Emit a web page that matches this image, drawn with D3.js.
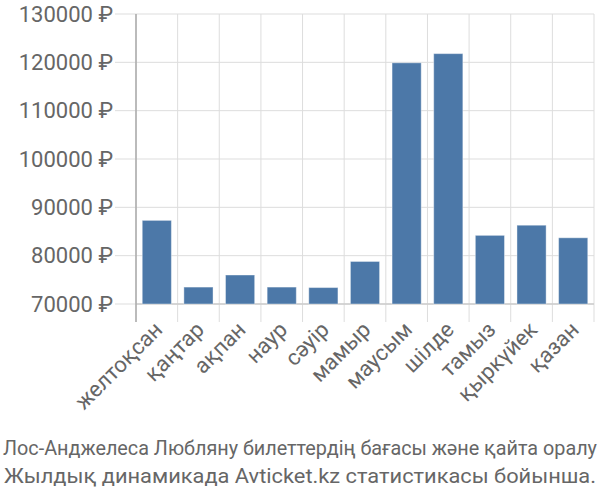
<!DOCTYPE html>
<html><head><meta charset="utf-8">
<script src="https://cdn.jsdelivr.net/npm/d3@7"></script>
<style>body{margin:0;background:#fff}svg{display:block}text{font-family:Roboto,sans-serif;fill:#666}</style>
</head><body><svg id="c" width="600" height="500"></svg>
<script>
const categories = ["желтоқсан","қаңтар","ақпан","наур","сәуір","мамыр","маусым","шілде","тамыз","қыркүйек","қазан"];
const prices = [87300, 73500, 76000, 73500, 73400, 78800, 119900, 121800, 84200, 86300, 83700];
const yTicks = [70000, 80000, 90000, 100000, 110000, 120000, 130000];
const titleLines = ["Лос-Анджелеса Любляну билеттердің бағасы және қайта оралу","Жылдық динамикада Avticket.kz статистикасы бойынша."];

const svg = d3.select("#c");
const L = 136, R = 594, T = 14, B = 304;
const x = d3.scaleBand().domain(categories).range([L, R]).paddingInner(0.3).paddingOuter(0.15);
const y = d3.scaleLinear().domain([70000, 130000]).range([B, T]);

svg.append("g").selectAll("line").data(yTicks).join("line")
  .attr("x1", L - 21).attr("x2", R).attr("y1", d => y(d)).attr("y2", d => y(d))
  .attr("stroke", "#ddd").attr("stroke-width", 1);
const bounds = categories.map(c => x(c) - x.step()*x.paddingInner()/2).concat([R]);
svg.append("g").selectAll("line").data(bounds).join("line")
  .attr("x1", d => d).attr("x2", d => d).attr("y1", T).attr("y2", B + 18)
  .attr("stroke", "#ddd").attr("stroke-width", 1);
svg.append("line").attr("x1", L).attr("x2", R).attr("y1", B).attr("y2", B).attr("stroke", "#ccc").attr("stroke-width", 1.5);
svg.append("line").attr("x1", L).attr("x2", L).attr("y1", T).attr("y2", B + 18).attr("stroke", "#aaa").attr("stroke-width", 1.5);

svg.append("g").selectAll("text").data(yTicks).join("text")
  .attr("x", 113).attr("y", d => y(d)).attr("dy", "0.35em").attr("text-anchor", "end")
  .style("font-size", "22px").text(d => d + " ₽");

svg.append("g").selectAll("rect").data(prices).join("rect")
  .attr("x", (d, i) => x(categories[i])).attr("width", x.bandwidth())
  .attr("y", d => y(d)).attr("height", d => B - y(d))
  .attr("fill", "#4c78a8").attr("stroke", "#fff").attr("stroke-opacity", 0.4).attr("stroke-width", 1);

svg.append("g").selectAll("text").data(categories).join("text")
  .attr("transform", d => `translate(${x(d) + x.bandwidth()/2 + 7},${B + 27}) rotate(-45)`)
  .attr("text-anchor", "end").style("font-size", "22px").text(d => d);

svg.append("g").selectAll("text").data(titleLines).join("text")
  .attr("x", 300).attr("y", (d, i) => 455 + i * 28).attr("text-anchor", "middle")
  .attr("textLength", (d, i) => i === 0 ? 594 : 592).attr("lengthAdjust", "spacingAndGlyphs")
  .style("font-size", "19.5px").text(d => d);
</script></body></html>
